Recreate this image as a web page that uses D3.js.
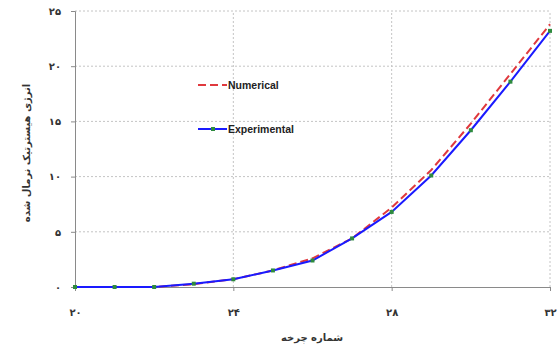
<!DOCTYPE html>
<html>
<head>
<meta charset="utf-8">
<script src="https://cdn.jsdelivr.net/npm/d3@7"></script>
<style>
  body { margin: 0; background: #fff; }
  text { font-family: "DejaVu Sans", sans-serif; }
</style>
</head>
<body>
<svg id="chart" width="558" height="355"></svg>
<script>
var cycles = [20, 21, 22, 23, 24, 25, 26, 27, 28, 29, 30, 31, 32];
var numerical = [0, 0, 0, 0.25, 0.7, 1.5, 2.6, 4.4, 7.2, 10.6, 14.8, 19.3, 23.8];
var experimental = [0, 0, 0, 0.3, 0.7, 1.5, 2.4, 4.4, 6.8, 10.1, 14.2, 18.6, 23.2];
var xTicks = [20, 24, 28, 32];
var yTicks = [0, 5, 10, 15, 20, 25];
var xTitle = "شماره چرخه";
var yTitle = "انرژی هیسترتیک نرمال شده";

var faDigits = "۰۱۲۳۴۵۶۷۸۹";
function fa(n) {
    return String(n).replace(/[0-9]/g, function(c) { return faDigits[+c]; });
}

var svg = d3.select("#chart");
var x = d3.scaleLinear().domain([20, 32]).range([75, 550]);
var y = d3.scaleLinear().domain([0, 25]).range([287, 11]);

// grid
svg.append("g").selectAll("line")
    .data(yTicks.slice(1))
    .enter().append("line")
        .attr("x1", x(20)).attr("x2", x(32))
        .attr("y1", function(d) { return y(d); })
        .attr("y2", function(d) { return y(d); })
        .attr("stroke", "#c4c4c4")
        .attr("stroke-dasharray", "2,2");

svg.append("g").selectAll("line")
    .data(xTicks.slice(1))
    .enter().append("line")
        .attr("x1", function(d) { return x(d); })
        .attr("x2", function(d) { return x(d); })
        .attr("y1", y(0)).attr("y2", y(25))
        .attr("stroke", "#c4c4c4")
        .attr("stroke-dasharray", "2,2");

// axes
var xAxis = svg.append("g")
    .attr("transform", "translate(0," + y(0) + ")")
    .call(d3.axisBottom(x).tickValues(xTicks).tickSize(4).tickPadding(18).tickFormat(fa));
var yAxis = svg.append("g")
    .attr("transform", "translate(" + x(20) + ",0)")
    .call(d3.axisLeft(y).tickValues(yTicks).tickSize(4).tickPadding(10).tickFormat(fa));

[xAxis, yAxis].forEach(function(a) {
    a.selectAll("path, line").attr("stroke", "#8a8a8a");
    a.selectAll("text")
        .attr("font-size", 10)
        .attr("font-weight", "bold")
        .attr("fill", "#333");
});

var line = d3.line()
    .x(function(d, i) { return x(cycles[i]); })
    .y(function(d) { return y(d); });

svg.append("path")
    .datum(numerical)
    .attr("fill", "none")
    .attr("stroke", "#e0393e")
    .attr("stroke-width", 2)
    .attr("stroke-dasharray", "8,4")
    .attr("d", line);

svg.append("path")
    .datum(experimental)
    .attr("fill", "none")
    .attr("stroke", "#1a1aff")
    .attr("stroke-width", 2)
    .attr("d", line);

svg.append("g").selectAll("rect")
    .data(experimental)
    .enter().append("rect")
        .attr("x", function(d, i) { return x(cycles[i]) - 2; })
        .attr("y", function(d) { return y(d) - 2; })
        .attr("width", 4).attr("height", 4)
        .attr("fill", "#2e8b3e");

// legend
var legend = svg.append("g").attr("transform", "translate(198,85)");
legend.append("line")
    .attr("x1", 0).attr("x2", 29)
    .attr("stroke", "#e0393e").attr("stroke-width", 2)
    .attr("stroke-dasharray", "8,4");
legend.append("text")
    .attr("x", 30).attr("y", 4)
    .style("font-size", "10.5px")
    .style("font-weight", "bold")
    .style("font-family", "'Liberation Sans', Arial, sans-serif")
    .attr("fill", "#222")
    .text("Numerical");
legend.append("line")
    .attr("x1", 0).attr("x2", 29).attr("y1", 44).attr("y2", 44)
    .attr("stroke", "#1a1aff").attr("stroke-width", 2);
legend.append("rect")
    .attr("x", 13).attr("y", 42).attr("width", 4).attr("height", 4)
    .attr("fill", "#2e8b3e");
legend.append("text")
    .attr("x", 30).attr("y", 48)
    .style("font-size", "10.5px")
    .style("font-weight", "bold")
    .style("font-family", "'Liberation Sans', Arial, sans-serif")
    .attr("fill", "#222")
    .text("Experimental");

// titles
svg.append("text")
    .attr("x", 312).attr("y", 341)
    .attr("text-anchor", "middle")
    .attr("font-size", 10).attr("font-weight", "bold")
    .attr("fill", "#333")
    .text(xTitle);

svg.append("text")
    .attr("transform", "translate(30,153) rotate(-90)")
    .attr("text-anchor", "middle")
    .attr("font-size", 10).attr("font-weight", "bold")
    .attr("fill", "#333")
    .text(yTitle);
</script>
</body>
</html>
